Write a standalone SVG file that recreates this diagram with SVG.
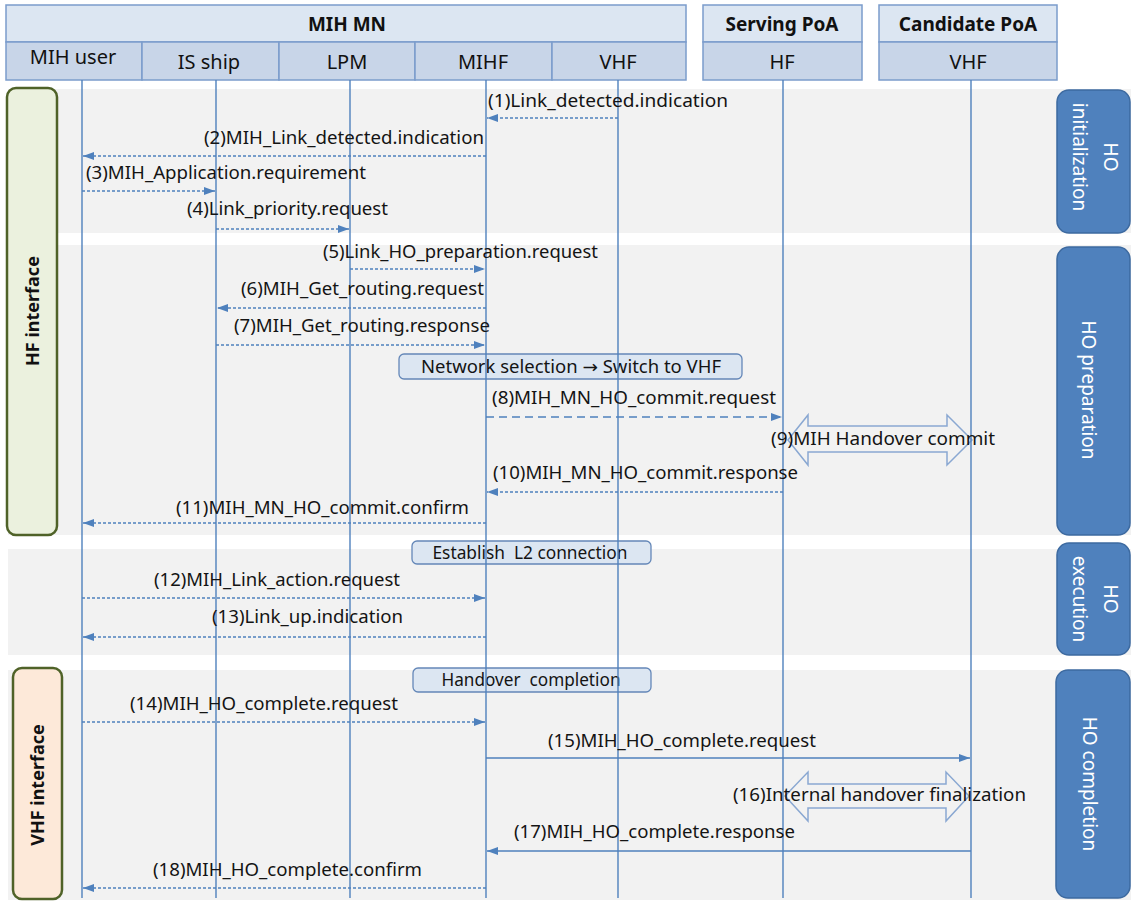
<svg xmlns="http://www.w3.org/2000/svg" width="1131" height="903" viewBox="0 0 1131 903">
  <style>
    .lbl { font-family: "Noto Sans", "Open Sans", "DejaVu Sans", sans-serif; font-size: 18.5px; fill: #141414; }
    .hdr { font-family: "Noto Sans", "Open Sans", sans-serif; font-size: 20px; fill: #111; text-anchor: middle; }
    .hdrb { font-family: "Noto Sans", "Open Sans", sans-serif; font-size: 19px; font-weight: bold; fill: #111; text-anchor: middle; }
    .top { fill: #dce6f2; stroke: #7b9ccb; stroke-width: 1.5; }
    .cell { fill: #c8d5e8; stroke: #7b9ccb; stroke-width: 1.5; }
    .band { fill: #f2f2f2; }
    .life { stroke: #4f81bd; stroke-width: 1.4; }
    .msg { stroke: #4f81bd; stroke-width: 1.3; fill: none; stroke-dasharray: 3 2; }
    .msg-long { stroke: #4f81bd; stroke-width: 1.3; fill: none; stroke-dasharray: 8 5; }
    .msg-solid { stroke: #4f81bd; stroke-width: 1.4; fill: none; }
    .note { fill: #dce6f2; stroke: #6487b8; stroke-width: 1.3; }
    .notetxt { font-family: "Noto Sans", "Open Sans", sans-serif; font-size: 17.5px; fill: #141414; text-anchor: middle; }
    .arrowglyph { font-family: "DejaVu Sans", sans-serif; }
    .phase { fill: #4f81bd; stroke: #3d6aa0; stroke-width: 1.5; }
    .phasetxt { font-family: "Noto Sans", "Open Sans", sans-serif; font-size: 19px; fill: #ffffff; text-anchor: middle; }
    .iface { stroke: #4f6228; stroke-width: 2.5; }
    .ifacetxt { font-family: "Noto Sans", "Open Sans", sans-serif; font-size: 18px; font-weight: bold; fill: #111; text-anchor: middle; }
    .block { fill: #f2f2f2; stroke: #8aa8d2; stroke-width: 1.5; }
  </style>
  <defs>
    <marker id="ah" viewBox="0 0 11 8" refX="11" refY="4" markerWidth="11" markerHeight="8" markerUnits="userSpaceOnUse" orient="auto">
      <path d="M0,0 L11,4 L0,8 Z" fill="#4f81bd"/>
    </marker>
  </defs>

  <rect width="1131" height="903" fill="#ffffff"/>

  <!-- phase background bands -->
  <g id="bands">
    <rect class="band" x="8" y="89" width="1123" height="144"/>
    <rect class="band" x="8" y="245" width="1123" height="290"/>
    <rect class="band" x="8" y="549" width="1123" height="106"/>
    <rect class="band" x="8" y="670" width="1123" height="230"/>
  </g>

  <!-- header: entity groups -->
  <g id="mih-mn">
    <rect class="top" x="6" y="5" width="680" height="37"/>
    <text class="hdrb" x="347" y="31">MIH MN</text>
  </g>
  <g id="mih-user">
    <rect class="cell" x="6" y="42" width="136" height="38"/>
    <text class="hdr" x="73" y="64">MIH user</text>
  </g>
  <g id="is-ship">
    <rect class="cell" x="142" y="42" width="137" height="38"/>
    <text class="hdr" x="209" y="69">IS ship</text>
  </g>
  <g id="lpm">
    <rect class="cell" x="279" y="42" width="136" height="38"/>
    <text class="hdr" x="347" y="69">LPM</text>
  </g>
  <g id="mihf">
    <rect class="cell" x="415" y="42" width="137" height="38"/>
    <text class="hdr" x="483" y="69">MIHF</text>
  </g>
  <g id="mn-vhf">
    <rect class="cell" x="552" y="42" width="134" height="38"/>
    <text class="hdr" x="618" y="69">VHF</text>
  </g>
  <g id="serving-poa">
    <rect class="top" x="703" y="5" width="159" height="37"/>
    <rect class="cell" x="703" y="42" width="159" height="38"/>
    <text class="hdrb" x="782" y="31">Serving PoA</text>
    <text class="hdr" x="782" y="69">HF</text>
  </g>
  <g id="candidate-poa">
    <rect class="top" x="879" y="5" width="178" height="37"/>
    <rect class="cell" x="879" y="42" width="178" height="38"/>
    <text class="hdrb" x="968" y="31">Candidate PoA</text>
    <text class="hdr" x="968" y="69">VHF</text>
  </g>

  <!-- interface brackets on the left -->
  <g id="hf-interface">
    <rect class="iface" x="7" y="88" width="50" height="447" rx="9" fill="#ebf1de"/>
    <text class="ifacetxt" transform="translate(33,311) rotate(-90)" dy="0.35em">HF interface</text>
  </g>
  <g id="vhf-interface">
    <rect class="iface" x="13" y="668" width="49" height="231" rx="9" fill="#fde9d9"/>
    <text class="ifacetxt" transform="translate(38,785) rotate(-90)" dy="0.35em">VHF interface</text>
  </g>

  <!-- phase labels on the right -->
  <g id="ho-initialization">
    <rect class="phase" x="1057" y="90" width="73" height="143" rx="12"/>
    <text class="phasetxt" transform="translate(1095,157) rotate(90)"><tspan x="0" y="-16" dy="0.35em">HO</tspan><tspan x="0" y="15" dy="0.35em">initialization</tspan></text>
  </g>
  <g id="ho-preparation">
    <rect class="phase" x="1057" y="247" width="73" height="288" rx="12"/>
    <text class="phasetxt" transform="translate(1089,390) rotate(90)" dy="0.35em">HO preparation</text>
  </g>
  <g id="ho-execution">
    <rect class="phase" x="1057" y="543" width="73" height="112" rx="12"/>
    <text class="phasetxt" transform="translate(1095,599) rotate(90)"><tspan x="0" y="-16" dy="0.35em">HO</tspan><tspan x="0" y="15" dy="0.35em">execution</tspan></text>
  </g>
  <g id="ho-completion">
    <rect class="phase" x="1056" y="670" width="74" height="228" rx="12"/>
    <text class="phasetxt" transform="translate(1090,784) rotate(90)" dy="0.35em">HO completion</text>
  </g>

  <!-- in-sequence notes -->
  <g id="note-network-selection">
    <rect class="note" x="399" y="354" width="343" height="25" rx="5"/>
    <text class="notetxt" x="571" y="373" textLength="300" lengthAdjust="spacingAndGlyphs">Network selection <tspan class="arrowglyph">→</tspan> Switch to VHF</text>
  </g>
  <g id="note-establish-l2">
    <rect class="note" x="412" y="541" width="239" height="23" rx="5"/>
    <text class="notetxt" x="530" y="559" textLength="195" lengthAdjust="spacingAndGlyphs" xml:space="preserve">Establish  L2 connection</text>
  </g>
  <g id="note-handover-completion">
    <rect class="note" x="413" y="668" width="238" height="24" rx="5"/>
    <text class="notetxt" x="531" y="686" textLength="179" lengthAdjust="spacingAndGlyphs" xml:space="preserve">Handover  completion</text>
  </g>

  <!-- two-way block arrows -->
  <g id="handover-commit">
    <path class="block" d="M788,440 L808,415 L808,426 L947,426 L947,415 L972,440 L947,465 L947,452 L808,452 L808,465 Z"/>
  </g>
  <g id="internal-finalization">
    <path class="block" d="M785,796 L808,772 L808,784 L946,784 L946,772 L969,796 L946,821 L946,808 L808,808 L808,821 Z"/>
  </g>

  <!-- lifelines -->
  <g id="lifelines">
    <line class="life" x1="82" y1="80" x2="82" y2="898"/>
    <line class="life" x1="216" y1="80" x2="216" y2="898"/>
    <line class="life" x1="350" y1="80" x2="350" y2="898"/>
    <line class="life" x1="486" y1="80" x2="486" y2="898"/>
    <line class="life" x1="618" y1="80" x2="618" y2="898"/>
    <line class="life" x1="783" y1="80" x2="783" y2="898"/>
    <line class="life" x1="971" y1="80" x2="971" y2="898"/>
  </g>

  <!-- messages -->
  <g id="connectors">
    <line class="msg" x1="618" y1="118" x2="487" y2="118" marker-end="url(#ah)"/>
    <line class="msg" x1="486" y1="156" x2="83" y2="156" marker-end="url(#ah)"/>
    <line class="msg" x1="82" y1="191" x2="215" y2="191" marker-end="url(#ah)"/>
    <line class="msg" x1="216" y1="229" x2="349" y2="229" marker-end="url(#ah)"/>
    <line class="msg" x1="350" y1="269" x2="485" y2="269" marker-end="url(#ah)"/>
    <line class="msg" x1="486" y1="308" x2="217" y2="308" marker-end="url(#ah)"/>
    <line class="msg" x1="216" y1="345" x2="485" y2="345" marker-end="url(#ah)"/>
    <line class="msg-long" x1="486" y1="417" x2="782" y2="417" marker-end="url(#ah)"/>
    <line class="msg" x1="783" y1="492" x2="487" y2="492" marker-end="url(#ah)"/>
    <line class="msg" x1="486" y1="523" x2="83" y2="523" marker-end="url(#ah)"/>
    <line class="msg" x1="82" y1="598" x2="485" y2="598" marker-end="url(#ah)"/>
    <line class="msg" x1="486" y1="637" x2="83" y2="637" marker-end="url(#ah)"/>
    <line class="msg" x1="82" y1="722" x2="485" y2="722" marker-end="url(#ah)"/>
    <line class="msg-solid" x1="486" y1="758" x2="970" y2="758" marker-end="url(#ah)"/>
    <line class="msg-solid" x1="971" y1="851" x2="487" y2="851" marker-end="url(#ah)"/>
    <line class="msg" x1="486" y1="888" x2="83" y2="888" marker-end="url(#ah)"/>
  </g>

  <!-- message labels -->
  <g id="labels">
    <text class="lbl" x="488" y="107" textLength="240" lengthAdjust="spacingAndGlyphs">(1)Link_detected.indication</text>
    <text class="lbl" x="204" y="144" textLength="280" lengthAdjust="spacingAndGlyphs">(2)MIH_Link_detected.indication</text>
    <text class="lbl" x="86" y="179" textLength="280" lengthAdjust="spacingAndGlyphs">(3)MIH_Application.requirement</text>
    <text class="lbl" x="187" y="215" textLength="201" lengthAdjust="spacingAndGlyphs">(4)Link_priority.request</text>
    <text class="lbl" x="323" y="258" textLength="275" lengthAdjust="spacingAndGlyphs">(5)Link_HO_preparation.request</text>
    <text class="lbl" x="241" y="295" textLength="243" lengthAdjust="spacingAndGlyphs">(6)MIH_Get_routing.request</text>
    <text class="lbl" x="234" y="332" textLength="256" lengthAdjust="spacingAndGlyphs">(7)MIH_Get_routing.response</text>
    <text class="lbl" x="492" y="404" textLength="284" lengthAdjust="spacingAndGlyphs">(8)MIH_MN_HO_commit.request</text>
    <text class="lbl" x="771" y="445" textLength="224" lengthAdjust="spacingAndGlyphs">(9)MIH Handover commit</text>
    <text class="lbl" x="493" y="479" textLength="305" lengthAdjust="spacingAndGlyphs">(10)MIH_MN_HO_commit.response</text>
    <text class="lbl" x="176" y="514" textLength="293" lengthAdjust="spacingAndGlyphs">(11)MIH_MN_HO_commit.confirm</text>
    <text class="lbl" x="154" y="586" textLength="246" lengthAdjust="spacingAndGlyphs">(12)MIH_Link_action.request</text>
    <text class="lbl" x="212" y="623" textLength="191" lengthAdjust="spacingAndGlyphs">(13)Link_up.indication</text>
    <text class="lbl" x="130" y="710" textLength="268" lengthAdjust="spacingAndGlyphs">(14)MIH_HO_complete.request</text>
    <text class="lbl" x="548" y="747" textLength="268" lengthAdjust="spacingAndGlyphs">(15)MIH_HO_complete.request</text>
    <text class="lbl" x="733" y="801" textLength="293" lengthAdjust="spacingAndGlyphs">(16)Internal handover finalization</text>
    <text class="lbl" x="514" y="838" textLength="281" lengthAdjust="spacingAndGlyphs">(17)MIH_HO_complete.response</text>
    <text class="lbl" x="153" y="876" textLength="269" lengthAdjust="spacingAndGlyphs">(18)MIH_HO_complete.confirm</text>
  </g>
</svg>
